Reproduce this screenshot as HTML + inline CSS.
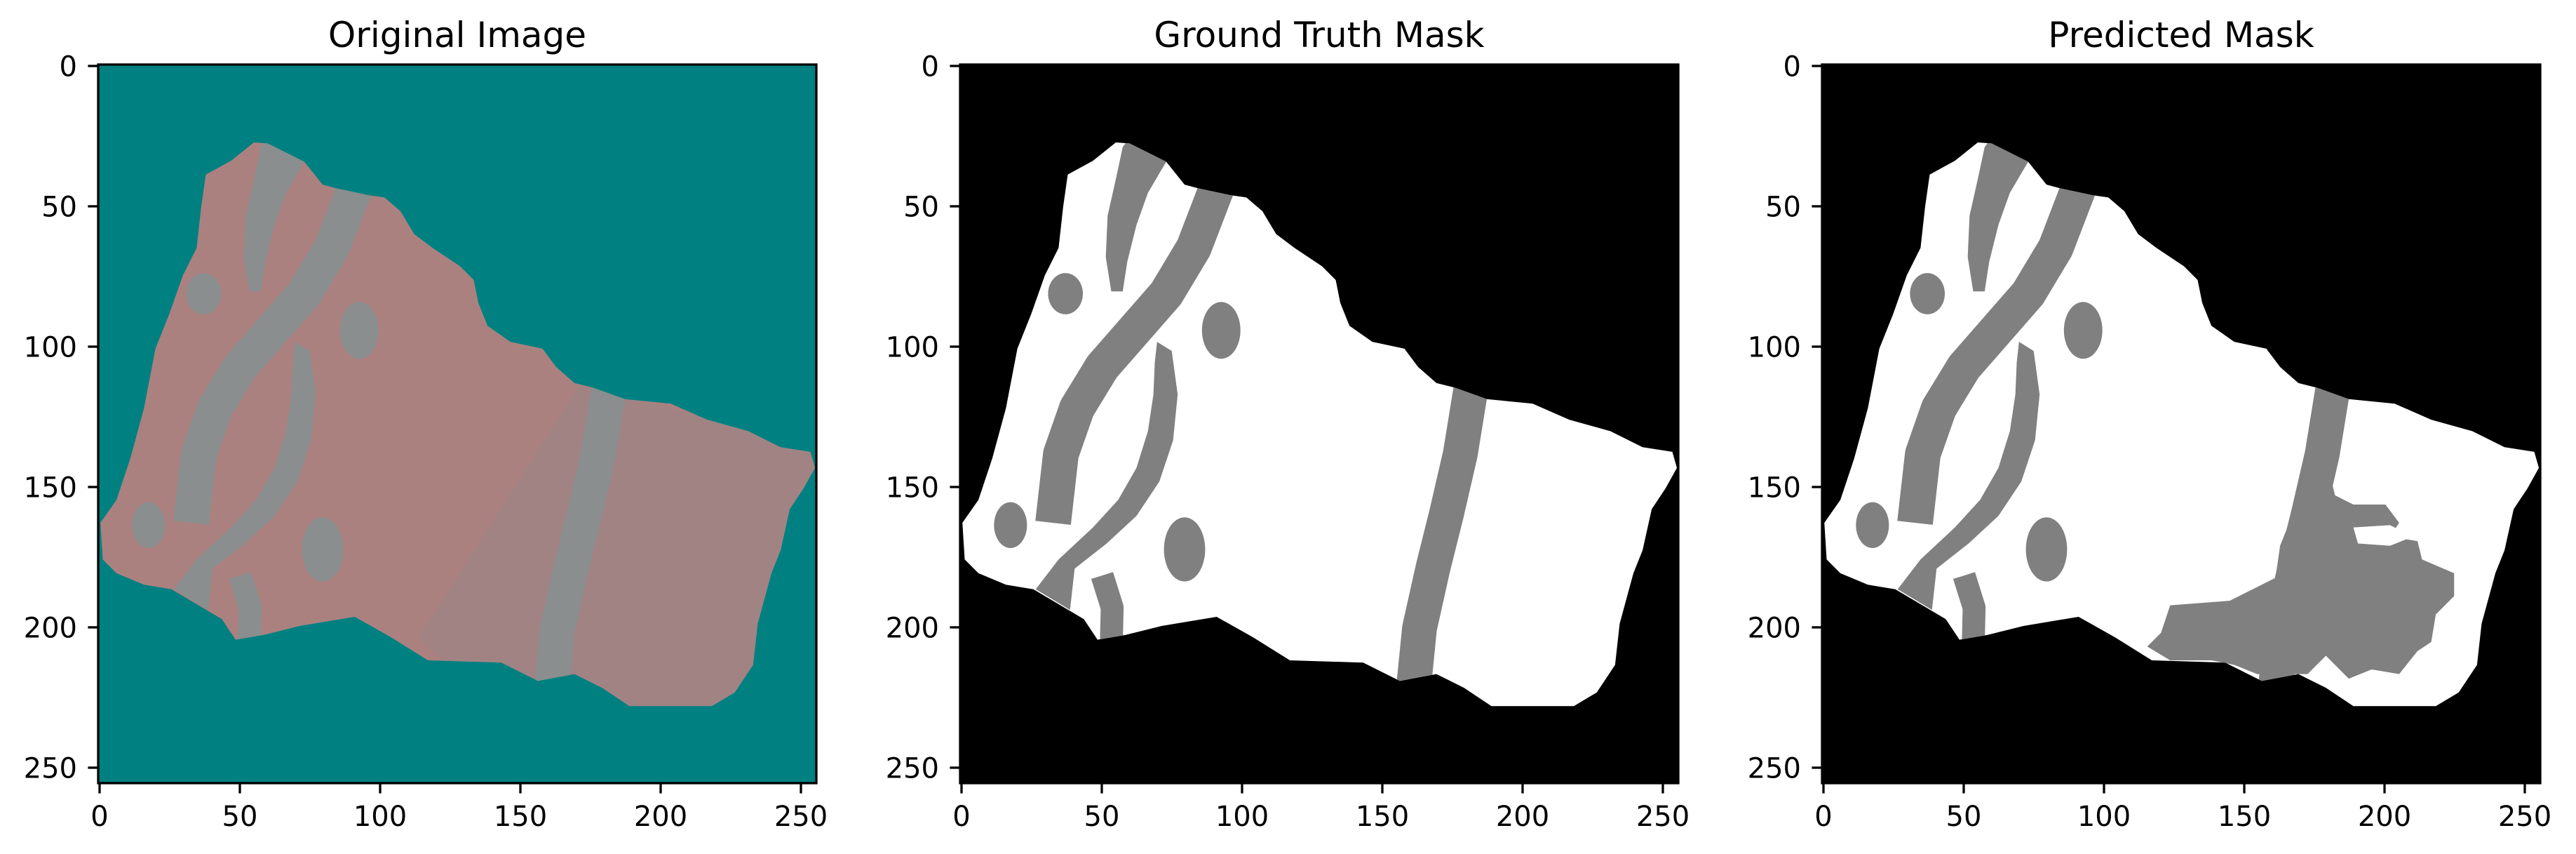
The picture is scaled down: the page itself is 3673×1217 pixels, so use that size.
<!DOCTYPE html>
<html><head><meta charset="utf-8"><style>
html,body{margin:0;padding:0;background:#fff}
svg{display:block;font-family:"DejaVu Sans","Liberation Sans",sans-serif}
</style></head><body>
<svg id="fig" width="3673" height="1217" viewBox="0 0 3673 1217" xmlns="http://www.w3.org/2000/svg"></svg>
<script>
const panelTitles = ["Original Image", "Ground Truth Mask", "Predicted Mask"];
const panelNames = ["original-image", "ground-truth-mask", "predicted-mask"];
const xTicks = [0, 50, 100, 150, 200, 250];
const yTicks = [0, 50, 100, 150, 200, 250];
const panelLefts = [140, 1369, 2598];
const TOP = 92, SIZE = 1024, NPIX = 256;
// shapes in image-zoom units (1568 = 256 pixels)
const outline = [[340,170],[370,172],[450,212],[490,262],[520,270],[590,285],[625,290],[660,320],[690,370],[730,400],[790,440],[820,470],[830,520],[850,570],[900,605],[970,620],[1000,660],[1040,695],[1080,705],[1150,730],[1250,740],[1330,775],[1420,800],[1490,835],[1555,845],[1565,880],[1540,925],[1510,970],[1490,1060],[1470,1110],[1440,1220],[1430,1310],[1390,1370],[1340,1400],[1160,1400],[1100,1360],[1040,1330],[960,1345],[880,1305],[720,1300],[640,1250],[560,1205],[440,1225],[360,1245],[300,1255],[270,1210],[160,1145],[100,1135],[40,1110],[10,1080],[5,1000],[40,950],[70,860],[100,750],[125,620],[155,545],[185,460],[215,400],[225,310],[235,240],[290,210]];
const stripeA = [[560,270],[510,400],[450,500],[380,580],[310,660],[255,750],[220,850],[203,1000]];
const stripeD = [[310,1115],[332,1185],[330,1270]];
const stripeE = [[1118,690],[1092,850],[1062,980],[1032,1100],[1003,1230],[990,1360]];
const stripeB = [[430,605],[462,625],[475,720],[465,820],[435,910],[385,985],[320,1045],[250,1100],[240,1190],[165,1145],[215,1080],[290,1010],[345,950],[385,880],[410,800],[422,720],[425,650]];
const stripeC = [[370,160],[450,212],[410,280],[385,350],[365,430],[355,495],[330,495],[318,420],[322,330],[340,250],[355,180]];
const blobs = [[230,500,38,45],[570,580,42,62],[110,1005,36,50],[490,1058,45,70]];
const predRegion = [[1050,900],[1110,900],[1120,940],[1160,960],[1230,960],[1260,1000],[1240,1030],[1300,1040],[1310,1080],[1380,1110],[1380,1160],[1340,1200],[1330,1260],[1300,1280],[1260,1330],[1200,1320],[1150,1340],[1100,1290],[1060,1330],[950,1330],[900,1310],[850,1300],[760,1300],[710,1270],[740,1240],[760,1180],[890,1170],[990,1120],[1000,1050],[1020,1000]];
const predHole = [[1160,1010],[1240,1005],[1290,1030],[1240,1050],[1170,1045]];

const NS = "http://www.w3.org/2000/svg";
const fig = document.getElementById("fig");
function el(tag, attrs, parent){const e=document.createElementNS(NS,tag);for(const k in attrs)e.setAttribute(k,attrs[k]);(parent||fig).appendChild(e);return e;}
function pts(a){return a.map(p=>p.join(",")).join(" ");}
function xPos(L,v){return L+(v+0.5)*SIZE/NPIX;}
function yPos(v){return TOP+(v+0.5)*SIZE/NPIX;}

const defs = el("defs",{});
const cp = el("clipPath",{id:"tissueClip"},defs);
el("polygon",{points:pts(outline)},cp);

panelLefts.forEach((L,i)=>{
  const g = el("g",{});
  
  
  const bgc = i===0 ? "#008080" : "#000";
  const tissue = i===0 ? "#ab8180" : "#fff";
  const grey = i===0 ? "#8a8e8e" : "#808080";
  const bg = el("rect",{x:L,y:TOP,width:SIZE,height:SIZE,fill:bgc},g);
  
  
  const img = el("g",{transform:`translate(${L},${TOP}) scale(${1024/1568})`},g);
  const t = el("polygon",{points:pts(outline),fill:tissue},img);
  
  
  const inner = el("g",{"clip-path":"url(#tissueClip)"},img);
  if(i===0){
    const shade = el("polygon",{points:pts([[1050,700],[1600,840],[1600,1450],[900,1450],[700,1250]]),fill:"#8a8890",opacity:0.3},inner);
    
    
  }
  const s = el("g",{fill:"none",stroke:grey,"stroke-linejoin":"round"},inner);
  
  
  [[stripeA,78],[stripeD,50],[stripeE,76]].forEach(([a,w])=>el("polyline",{points:pts(a),"stroke-width":w},s));
  el("polygon",{points:pts(stripeB),fill:grey,stroke:"none"},inner);
  el("polygon",{points:pts(stripeC),fill:grey,stroke:"none"},inner);
  blobs.forEach(b=>{const e=el("ellipse",{cx:b[0],cy:b[1],rx:b[2],ry:b[3],fill:grey},inner);
    
    });
  if(i===2){
    const r = el("polygon",{points:pts(predRegion),fill:"#808080"},inner);
    
    
    el("polygon",{points:pts(predHole),fill:"#fff"},inner);
  }
  const frame = el("rect",{x:L,y:TOP,width:SIZE,height:SIZE,fill:"none",stroke:"#000","stroke-width":3.3},g);
  
  
  const title = el("text",{x:L+SIZE/2,y:67,"font-size":50,"text-anchor":"middle",fill:"#000"},g);
  title.textContent = panelTitles[i];
  
  
  xTicks.forEach(v=>{
    const x=xPos(L,v);
    el("line",{x1:x,y1:TOP+SIZE,x2:x,y2:TOP+SIZE+14.6,stroke:"#000","stroke-width":3.3},g);
    const tx=el("text",{x:x,y:1177,"font-size":40,"text-anchor":"middle"},g);
    tx.textContent=v;
    
    
  });
  yTicks.forEach(v=>{
    const y=yPos(v);
    el("line",{x1:L-14.6,y1:y,x2:L,y2:y,stroke:"#000","stroke-width":3.3},g);
    const ty=el("text",{x:L-30,y:y+14.5,"font-size":40,"text-anchor":"end"},g);
    ty.textContent=v;
    
    
  });
});
</script>
</body></html>
